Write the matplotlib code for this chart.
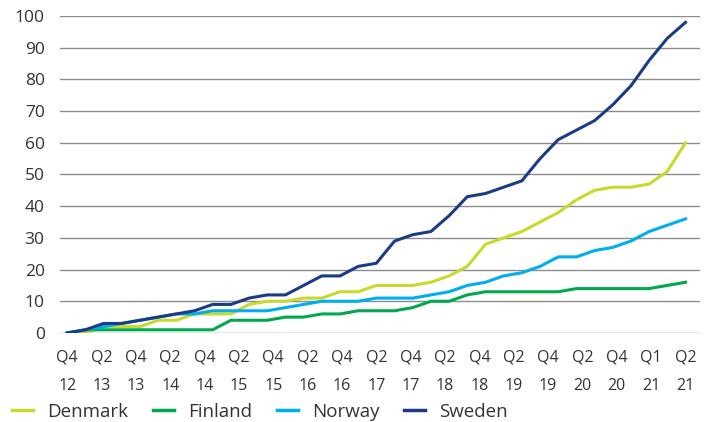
import numpy as np
import matplotlib
matplotlib.use("Agg")
import matplotlib.pyplot as plt

plt.rcParams['font.family'] = ['Open Sans', 'DejaVu Sans']

# quarterly values, Q4 2012 .. Q2 2021
denmark = [0, 0, 2, 2, 2, 4, 4, 6, 6, 6, 9, 10, 10, 11, 11, 13, 13, 15, 15, 15,
           16, 18, 21, 28, 30, 32, 35, 38, 42, 45, 46, 46, 47, 51, 60]
finland = [0, 1, 1, 1, 1, 1, 1, 1, 1, 4, 4, 4, 5, 5, 6, 6, 7, 7, 7, 8,
           10, 10, 12, 13, 13, 13, 13, 13, 14, 14, 14, 14, 14, 15, 16]
norway = [0, 1, 2, 3, 4, 5, 6, 6, 7, 7, 7, 7, 8, 9, 10, 10, 10, 11, 11, 11,
          12, 13, 15, 16, 18, 19, 21, 24, 24, 26, 27, 29, 32, 34, 36]
sweden = [0, 1, 3, 3, 4, 5, 6, 7, 9, 9, 11, 12, 12, 15, 18, 18, 21, 22, 29, 31,
          32, 37, 43, 44, 46, 48, 55, 61, 64, 67, 72, 78, 86, 93, 98]

tick_labels = ["Q4\n12", "Q2\n13", "Q4\n13", "Q2\n14", "Q4\n14", "Q2\n15", "Q4\n15",
               "Q2\n16", "Q4\n16", "Q2\n17", "Q4\n17", "Q2\n18", "Q4\n18", "Q2\n19",
               "Q4\n19", "Q2\n20", "Q4\n20", "Q1\n21", "Q2\n21"]

series = [("Denmark", denmark, "#c8d92b"),
          ("Finland", finland, "#00a94f"),
          ("Norway", norway, "#00aeef"),
          ("Sweden", sweden, "#1b3c84")]

fig = plt.figure(figsize=(7.05, 4.22), dpi=100)
ax = fig.add_axes([0.085, 0.211, 0.908, 0.751])

x = np.arange(len(sweden))
for name, vals, col in series:
    ax.plot(x, vals, color=col, lw=2.2, label=name, solid_joinstyle='round', zorder=3)

ax.set_ylim(0, 100)
ax.set_xlim(-0.4, len(sweden) - 1 + 0.8)
ax.set_yticks(range(0, 101, 10))
ax.yaxis.grid(True, color="#8c8c8c", lw=1.0)
ax.set_axisbelow(True)
for s in ax.spines.values():
    s.set_visible(False)

ax.set_xticks(np.linspace(0, len(sweden) - 1, len(tick_labels)))
ax.set_xticklabels(tick_labels, linespacing=2.0)
ax.tick_params(axis='both', length=0, labelsize=11.5, labelcolor="#333333")
ax.tick_params(axis='y', labelsize=12.5, pad=11)
ax.tick_params(axis='x', pad=12)

fig.legend(loc='center left', bbox_to_anchor=(0.017, 1 - 412 / 422), ncol=4, frameon=False,
           fontsize=13.5, handlelength=1.1, handletextpad=0.75, columnspacing=1.35,
           borderpad=0, borderaxespad=0, labelcolor="#333333")
for line in fig.legends[0].get_lines():
    line.set_linewidth(2.5)

fig.savefig("out.png", dpi=100)
